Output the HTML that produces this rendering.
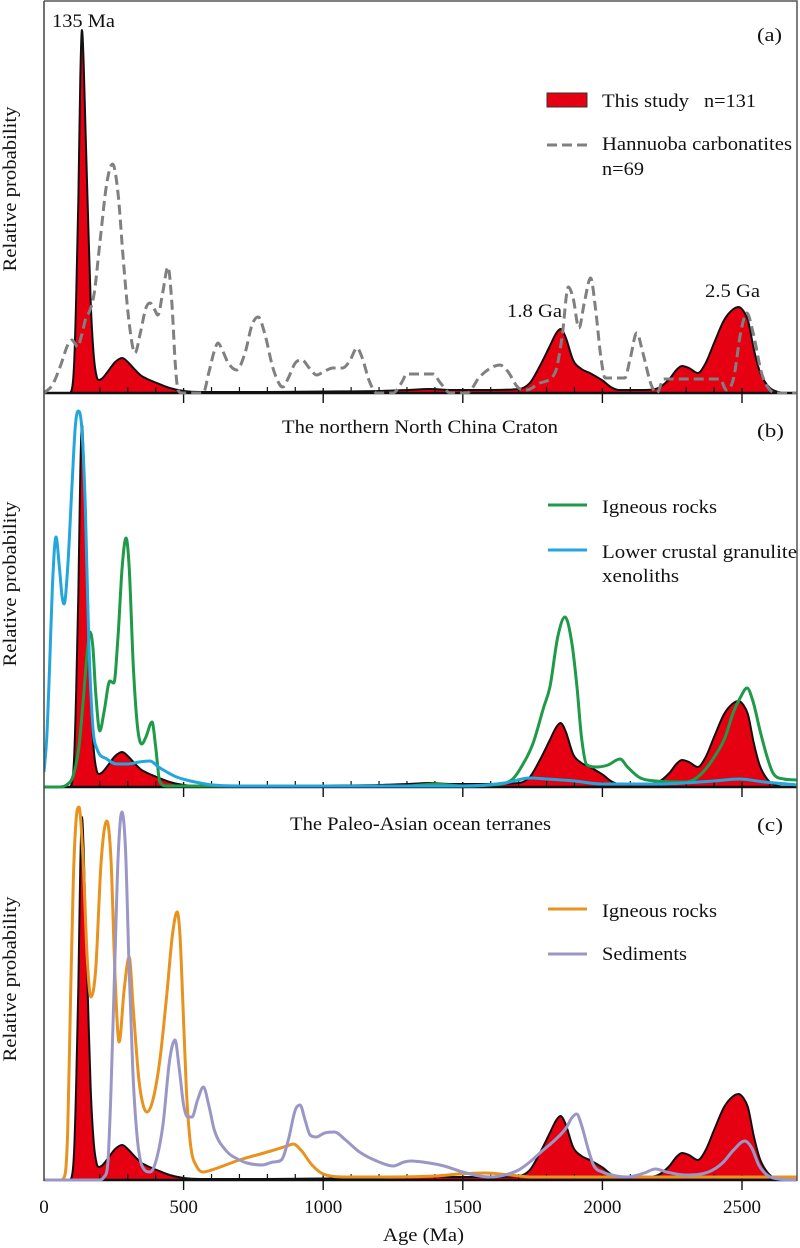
<!DOCTYPE html>
<html><head><meta charset="utf-8">
<style>
html,body{margin:0;padding:0;background:#fff;width:800px;height:1248px;overflow:hidden;}
svg{display:block;}
text{font-family:"Liberation Serif","Times New Roman",serif;fill:#111;font-size:19px;}
</style></head><body>
<svg id="s" width="800" height="1248" viewBox="0 0 800 1248" xmlns="http://www.w3.org/2000/svg">
<defs><clipPath id="cp"><rect x="44" y="0" width="753" height="1200"/></clipPath></defs>
<g id="reds" clip-path="url(#cp)"></g>
<g id="axes"></g>
<g id="lines" clip-path="url(#cp)"></g>
<path d="M44,1 H797 V1181" fill="none" stroke="#555" stroke-width="1.5"/>
<line x1="44" y1="1" x2="44" y2="1181" stroke="#444" stroke-width="1.5"/>

<text x="52" y="27" textLength="63" lengthAdjust="spacingAndGlyphs">135 Ma</text>
<text x="757" y="41" textLength="25" lengthAdjust="spacingAndGlyphs">(a)</text>
<rect x="547" y="93" width="40" height="14" fill="#e50012" stroke="#333" stroke-width="1"/>
<text x="602" y="107" textLength="87" lengthAdjust="spacingAndGlyphs">This study</text>
<text x="704" y="107" textLength="52" lengthAdjust="spacingAndGlyphs">n=131</text>
<line x1="547" y1="145" x2="587" y2="145" stroke="#808080" stroke-width="3" stroke-dasharray="10 5"/>
<text x="602" y="150" textLength="190" lengthAdjust="spacingAndGlyphs">Hannuoba carbonatites</text>
<text x="602" y="175" textLength="42" lengthAdjust="spacingAndGlyphs">n=69</text>
<text x="507" y="317" textLength="55" lengthAdjust="spacingAndGlyphs">1.8 Ga</text>
<text x="705" y="297" textLength="55" lengthAdjust="spacingAndGlyphs">2.5 Ga</text>

<text x="282" y="433" textLength="276" lengthAdjust="spacingAndGlyphs">The northern North China Craton</text>
<text x="757" y="437" textLength="27" lengthAdjust="spacingAndGlyphs">(b)</text>
<line x1="548" y1="505" x2="587" y2="505" stroke="#1f9a48" stroke-width="3"/>
<text x="602" y="513" textLength="115" lengthAdjust="spacingAndGlyphs">Igneous rocks</text>
<line x1="548" y1="550" x2="587" y2="550" stroke="#23a6de" stroke-width="3"/>
<text x="602" y="558" textLength="195" lengthAdjust="spacingAndGlyphs">Lower crustal granulite</text>
<text x="602" y="582" textLength="77" lengthAdjust="spacingAndGlyphs">xenoliths</text>

<text x="290" y="830" textLength="261" lengthAdjust="spacingAndGlyphs">The Paleo-Asian ocean terranes</text>
<text x="757" y="831" textLength="26" lengthAdjust="spacingAndGlyphs">(c)</text>
<line x1="548" y1="909" x2="587" y2="909" stroke="#e8921f" stroke-width="3"/>
<text x="602" y="917" textLength="115" lengthAdjust="spacingAndGlyphs">Igneous rocks</text>
<line x1="548" y1="954" x2="587" y2="954" stroke="#9a97c6" stroke-width="3"/>
<text x="602" y="960" textLength="85" lengthAdjust="spacingAndGlyphs">Sediments</text>

<text transform="translate(16,189) rotate(-90)" text-anchor="middle" textLength="165" lengthAdjust="spacingAndGlyphs">Relative probability</text>
<text transform="translate(16,584) rotate(-90)" text-anchor="middle" textLength="165" lengthAdjust="spacingAndGlyphs">Relative probability</text>
<text transform="translate(16,979) rotate(-90)" text-anchor="middle" textLength="165" lengthAdjust="spacingAndGlyphs">Relative probability</text>

<g font-size="20" text-anchor="middle">
<text x="44" y="1213" text-anchor="middle">0</text>
<text x="183.6" y="1213" text-anchor="middle">500</text>
<text x="323.2" y="1213" text-anchor="middle">1000</text>
<text x="462.8" y="1213" text-anchor="middle">1500</text>
<text x="602.4" y="1213" text-anchor="middle">2000</text>
<text x="742" y="1213" text-anchor="middle">2500</text>
</g>
<text x="383" y="1241" textLength="81" lengthAdjust="spacingAndGlyphs">Age (Ma)</text>
</svg>
<script>
(function(){
var NS="http://www.w3.org/2000/svg";
function X(a){return 44+a*0.2792;}
function pathD(pts,base){
  var n=pts.length,xs=[],ys=[],d=[],m=[],i;
  for(i=0;i<n;i++){xs.push(X(pts[i][0]));ys.push(base-pts[i][1]);}
  for(i=0;i<n-1;i++)d[i]=(ys[i+1]-ys[i])/(xs[i+1]-xs[i]);
  m[0]=d[0];m[n-1]=d[n-2];
  for(i=1;i<n-1;i++){m[i]=(d[i-1]*d[i]<=0)?0:(d[i-1]+d[i])/2;}
  for(i=0;i<n-1;i++){
    if(d[i]===0){m[i]=0;m[i+1]=0;continue;}
    var a=m[i]/d[i],b=m[i+1]/d[i],s=a*a+b*b;
    if(s>9){var t=3/Math.sqrt(s);m[i]=t*a*d[i];m[i+1]=t*b*d[i];}
  }
  var str="M"+xs[0].toFixed(2)+","+ys[0].toFixed(2);
  for(i=0;i<n-1;i++){
    var h=(xs[i+1]-xs[i])/3;
    str+=" C"+(xs[i]+h).toFixed(2)+","+(ys[i]+m[i]*h).toFixed(2)+" "+(xs[i+1]-h).toFixed(2)+","+(ys[i+1]-m[i+1]*h).toFixed(2)+" "+xs[i+1].toFixed(2)+","+ys[i+1].toFixed(2);
  }
  return str;
}
function el(parent,tag,attrs){var e=document.createElementNS(NS,tag);for(var k in attrs)e.setAttribute(k,attrs[k]);parent.appendChild(e);return e;}

var R=[[0,0],[90,0],[100,4],[108,30],[115,93],[123,193],[130,315],[136,363],[142,330],[148,270],[156,193],[167,93],[178,38],[189,16],[197,13],[210,15],[230,22],[255,31],[280,35],[300,31],[320,25],[345,18],[370,14],[404,10],[450,5],[500,2],[560,1],[800,1],[1000,1.5],[1200,2],[1300,3],[1380,4],[1460,3],[1600,3],[1700,4],[1740,10],[1776,27],[1810,46],[1835,60],[1850,64],[1868,56],[1895,33],[1925,24],[1955,20],[1980,16],[2003,12],[2030,6],[2060,3],[2150,3],[2200,5],[2240,14],[2265,23],[2285,27],[2310,25],[2342,20],[2370,30],[2400,50],[2436,73],[2465,83],[2488,86],[2505,82],[2521,73],[2543,43],[2563,22],[2578,13],[2600,5],[2630,1],[2660,0],[2700,0]];

var H=[[0,0],[30,8],[60,28],[85,48],[100,53],[110,50],[120,46],[135,58],[150,75],[165,83],[180,100],[200,150],[225,210],[246,229],[265,200],[285,130],[305,70],[326,40],[345,60],[365,85],[380,90],[395,84],[408,78],[425,100],[444,126],[458,90],[470,30],[480,3],[495,0],[570,0],[590,20],[610,42],[623,50],[640,42],[660,30],[690,23],[720,40],[745,68],[767,76],[790,60],[820,25],[845,8],[856,6],[875,15],[900,30],[924,33],[950,25],[977,18],[1000,21],[1035,25],[1070,25],[1095,32],[1121,45],[1140,35],[1165,12],[1192,0],[1250,0],[1280,10],[1300,19],[1393,19],[1420,10],[1455,0],[1515,0],[1560,16],[1600,25],[1633,28],[1660,22],[1700,5],[1730,3],[1776,10],[1830,20],[1855,55],[1878,106],[1895,95],[1916,65],[1935,90],[1958,115],[1975,85],[1995,35],[2010,15],[2080,15],[2100,35],[2123,60],[2145,40],[2175,8],[2195,0],[2220,14],[2250,14],[2420,14],[2445,3],[2470,15],[2495,60],[2517,80],[2540,60],[2570,20],[2600,3],[2630,0],[2700,0]];

var G=[[0,0],[55,0],[80,2],[104,11],[125,40],[140,85],[155,135],[165,155],[175,140],[185,95],[200,56],[215,75],[236,106],[250,104],[265,150],[280,220],[294,249],[305,220],[320,120],[335,60],[350,43],[365,50],[387,65],[400,40],[415,5],[440,1],[600,1],[1300,1],[1400,3],[1500,1],[1600,2],[1670,6],[1720,25],[1752,44],[1790,80],[1812,100],[1840,150],[1866,170],[1890,145],[1909,100],[1925,50],[1945,22],[1980,20],[2020,22],[2063,28],[2090,20],[2130,10],[2160,7],[2300,5],[2350,12],[2410,34],[2440,50],[2468,74],[2495,90],[2518,99],[2540,85],[2564,57],[2590,30],[2611,14],[2650,8],[2700,7]];

var L=[[0,15],[10,50],[20,120],[30,200],[43,250],[55,220],[65,190],[72,183],[85,220],[100,300],[112,360],[122,376],[135,360],[148,280],[160,150],[175,60],[190,38],[225,28],[260,23],[300,23],[340,25],[380,26],[410,20],[440,15],[475,10],[510,7],[560,4],[605,2],[700,1],[1000,1],[1500,1],[1650,4],[1740,9],[1800,8],[1900,6],[2000,3],[2200,3],[2400,6],[2490,8],[2580,5],[2700,2]];

var O=[[0,0],[60,0],[75,5],[85,50],[95,180],[105,300],[115,360],[125,373],[140,320],[155,220],[168,183],[185,210],[205,320],[225,359],[240,320],[255,200],[269,138],[287,190],[305,223],[320,170],[340,100],[355,75],[369,68],[390,80],[415,120],[440,186],[460,245],[477,268],[487,245],[497,180],[510,90],[525,35],[548,13],[570,8],[600,10],[700,20],[800,28],[870,34],[893,36],[920,30],[960,15],[1000,6],[1085,3],[1200,3],[1400,4],[1487,6],[1580,7],[1670,5],[1750,3],[2700,3]];

var P=[[0,0],[200,0],[215,3],[228,15],[240,90],[254,220],[265,320],[279,368],[292,330],[304,220],[318,110],[333,45],[350,15],[380,8],[400,18],[426,55],[450,120],[469,140],[485,110],[500,75],[515,63],[530,63],[550,80],[571,93],[590,75],[610,50],[650,30],[700,20],[727,17],[780,15],[822,18],[850,20],[875,40],[900,70],[917,75],[935,60],[953,45],[975,43],[1005,47],[1040,48],[1080,40],[1130,28],[1200,18],[1250,14],[1290,18],[1313,19],[1380,17],[1433,14],[1500,8],[1560,4],[1597,3],[1650,5],[1700,10],[1740,18],[1780,28],[1830,40],[1870,52],[1890,62],[1908,66],[1925,55],[1950,30],[1970,14],[2000,8],[2050,4],[2090,3],[2150,7],[2190,11],[2230,8],[2300,5],[2380,8],[2430,17],[2470,30],[2510,39],[2535,32],[2560,15],[2590,5],[2630,1],[2700,0]];

var reds=document.getElementById("reds"),axes=document.getElementById("axes"),lines=document.getElementById("lines");
var bases=[393,787,1180];
bases.forEach(function(B){
  el(reds,"path",{d:pathD(R,B)+" L"+X(2700).toFixed(2)+","+B+" L44,"+B+" Z",fill:"#e50012",stroke:"#111","stroke-width":"2","stroke-linejoin":"round"});
  el(axes,"line",{x1:44,y1:B,x2:797,y2:B,stroke:"#111","stroke-width":"2.5"});
  for(var a=100;a<=2600;a+=100){
    var x=X(a);
    if(a%500===0) el(axes,"line",{x1:x,y1:B-5,x2:x,y2:B+10,stroke:"#111","stroke-width":"1.4"});
    else el(axes,"line",{x1:x,y1:B-6,x2:x,y2:B,stroke:"#111","stroke-width":"1.2"});
  }
});
el(lines,"path",{d:pathD(H,393),fill:"none",stroke:"#808080","stroke-width":"3","stroke-dasharray":"10 5"});
el(lines,"path",{d:pathD(G,787),fill:"none",stroke:"#1f9a48","stroke-width":"3","stroke-linejoin":"round"});
el(lines,"path",{d:pathD(L,787),fill:"none",stroke:"#23a6de","stroke-width":"3","stroke-linejoin":"round"});
el(lines,"path",{d:pathD(O,1180),fill:"none",stroke:"#e8921f","stroke-width":"3","stroke-linejoin":"round"});
el(lines,"path",{d:pathD(P,1180),fill:"none",stroke:"#9a97c6","stroke-width":"3","stroke-linejoin":"round"});
})();
</script>
</body></html>
